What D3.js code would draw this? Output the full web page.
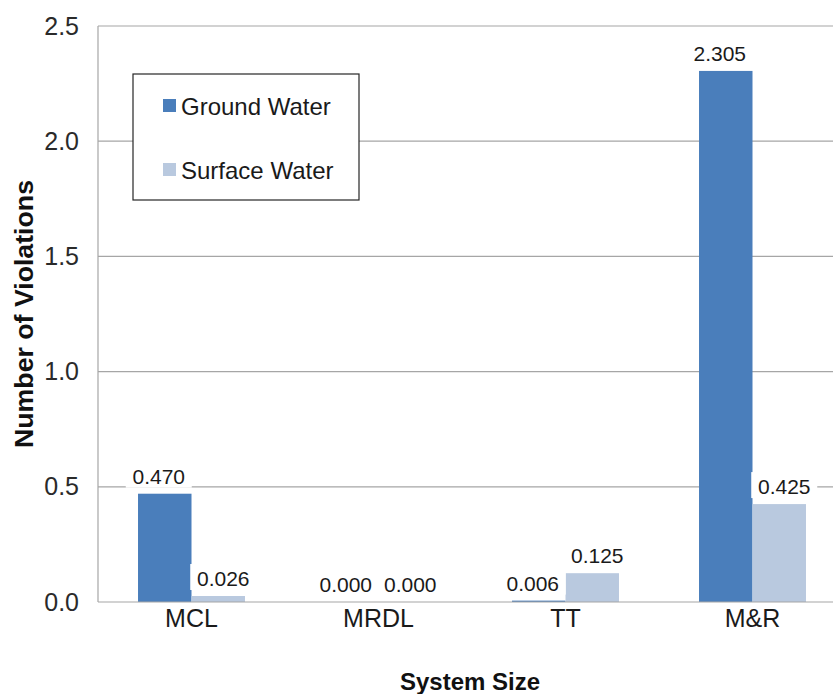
<!DOCTYPE html>
<html>
<head>
<meta charset="utf-8">
<script src="https://cdn.jsdelivr.net/npm/d3@7"></script>
<style>
  html, body { margin: 0; padding: 0; background: #fff; }
  svg { display: block; font-family: "Liberation Sans", Arial, sans-serif; }
</style>
</head>
<body>
<svg id="chart" width="833" height="694"></svg>
<script>
const categories = ["MCL", "MRDL", "TT", "M&R"];
const seriesNames = ["Ground Water", "Surface Water"];
const groundWater = [0.470, 0.000, 0.006, 2.305];
const surfaceWater = [0.026, 0.000, 0.125, 0.425];
const yTicks = [0.0, 0.5, 1.0, 1.5, 2.0, 2.5];
const colors = ["#4a7ebb", "#b9c9df"];
const xTitle = "System Size";
const yTitle = "Number of Violations";

const svg = d3.select("#chart");
const W = 833, H = 694;
const plot = { left: 98, top: 26, right: 846, bottom: 602 };
const labelShift = [-6, 5]; // per-series label nudge (style)

const y = d3.scaleLinear().domain([0, 2.5]).range([plot.bottom, plot.top]);
const x = d3.scaleBand().domain(categories).range([plot.left, plot.right]).padding(0);
const bw = x.bandwidth();
const xs = d3.scaleBand().domain(seriesNames)
  .range([bw * 0.214, bw * 0.786]).padding(0);

// gridlines
svg.append("g").selectAll("line").data(yTicks.filter(d => d > 0)).join("line")
  .attr("x1", plot.left).attr("x2", W)
  .attr("y1", d => y(d)).attr("y2", d => y(d))
  .attr("stroke", "#a6a6a6").attr("stroke-width", 1.2);

// y axis
const yAxis = d3.axisLeft(y).tickValues(yTicks).tickFormat(d3.format(".1f")).tickSize(0).tickPadding(19);
const gy = svg.append("g").attr("transform", `translate(${plot.left},0)`).call(yAxis);
gy.select(".domain").remove();
gy.selectAll("text").attr("font-size", 25).attr("fill", "#2a2a2a")
  .attr("font-family", "Liberation Sans, Arial, sans-serif");

// bars
const flat = [];
categories.forEach((c, i) => {
  flat.push({ cat: c, s: seriesNames[0], j: 0, v: groundWater[i] });
  flat.push({ cat: c, s: seriesNames[1], j: 1, v: surfaceWater[i] });
});
const cx = d => x(d.cat) + xs(d.s) + xs.bandwidth() / 2 + labelShift[d.j];

svg.append("g").selectAll("rect").data(flat).join("rect")
  .attr("x", d => x(d.cat) + xs(d.s)).attr("width", xs.bandwidth())
  .attr("y", d => y(d.v)).attr("height", d => plot.bottom - y(d.v))
  .attr("fill", d => colors[d.j]);

// axis lines
svg.append("line").attr("x1", plot.left).attr("x2", plot.left).attr("y1", plot.top).attr("y2", plot.bottom)
  .attr("stroke", "#a6a6a6").attr("stroke-width", 1.2);
svg.append("line").attr("x1", plot.left).attr("x2", W).attr("y1", plot.bottom).attr("y2", plot.bottom)
  .attr("stroke", "#a6a6a6").attr("stroke-width", 1.2);

// data labels: white backgrounds first, then text
svg.append("g").selectAll("rect").data(flat).join("rect")
  .attr("x", d => cx(d) - 33).attr("y", d => y(d.v) - 10 - 22)
  .attr("width", 66).attr("height", 26).attr("fill", "#fff");
svg.append("g").selectAll("text").data(flat).join("text")
  .attr("x", cx).attr("y", d => y(d.v) - 10)
  .attr("text-anchor", "middle").attr("font-size", 21).attr("fill", "#1a1a1a")
  .text(d => d3.format(".3f")(d.v));

// category labels
svg.append("g").selectAll("text").data(categories).join("text")
  .attr("x", d => x(d) + bw / 2).attr("y", 627)
  .attr("text-anchor", "middle").attr("font-size", 25).attr("fill", "#1a1a1a")
  .text(d => d);

// axis titles
svg.append("text").attr("x", 470).attr("y", 690).attr("text-anchor", "middle")
  .attr("font-size", 24).attr("font-weight", "bold").attr("fill", "#111").text(xTitle);
svg.append("text").attr("transform", `translate(33,${(plot.top + plot.bottom) / 2}) rotate(-90)`)
  .attr("text-anchor", "middle").attr("font-size", 26).attr("font-weight", "bold").attr("fill", "#111")
  .attr("textLength", 268).attr("lengthAdjust", "spacingAndGlyphs")
  .text(yTitle);

// legend
const lg = svg.append("g").attr("transform", "translate(133,74)");
lg.append("rect").attr("width", 226).attr("height", 126).attr("fill", "#fff")
  .attr("stroke", "#262626").attr("stroke-width", 1.2);
const li = lg.selectAll("g").data(seriesNames).join("g")
  .attr("transform", (d, i) => `translate(30,${32 + i * 64})`);
li.append("rect").attr("width", 13).attr("height", 13).attr("y", -7).attr("fill", (d, i) => colors[i]);
li.append("text").attr("x", 18).attr("y", 9).attr("font-size", 24).attr("fill", "#1a1a1a").text(d => d);
</script>
</body>
</html>
